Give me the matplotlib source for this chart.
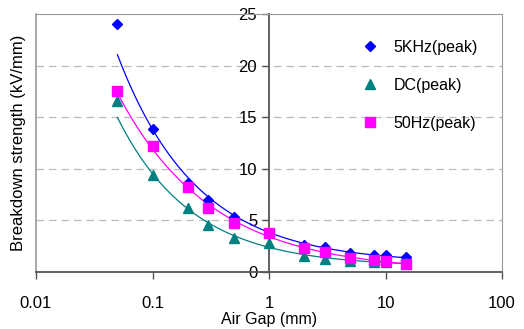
import numpy as np
import matplotlib.pyplot as plt

plt.rcParams['font.family'] = ['Liberation Sans', 'DejaVu Sans']

gap_mm = [0.05, 0.1, 0.2, 0.3, 0.5, 1, 2, 3, 5, 8, 10, 15]
khz5 = [24.0, 13.9, 8.6, 7.0, 5.35, 3.8, 2.6, 2.45, 1.8, 1.65, 1.6, 1.42]
dc = [16.6, 9.4, 6.2, 4.55, 3.26, 2.8, 1.55, 1.25, 1.1, 0.95, 0.95, 0.85]
hz50 = [17.5, 12.2, 8.27, 6.2, 4.7, 3.75, 2.3, 1.9, 1.35, 1.16, 1.07, 0.75]

series = [
    ('5KHz(peak)', khz5, '#0000FF', 'D', 5),
    ('DC(peak)', dc, '#008080', '^', 6.5),
    ('50Hz(peak)', hz50, '#FF00FF', 's', 6.5),
]


def offset_power_fit(x, y):
    # y = a * x**b + c, c picked from a grid, a and b from log-log regression
    best = None
    for c in np.linspace(0, 0.6 * y.min(), 40):
        b, la = np.polyfit(np.log(x), np.log(y - c), 1)
        err = np.sum((np.log(np.exp(la) * x ** b + c) - np.log(y)) ** 2)
        if best is None or err < best[0]:
            best = (err, np.exp(la), b, c)
    return best[1:]


fig = plt.figure(figsize=(5.24, 3.29), dpi=100)
ax = fig.add_axes([36 / 524, 57 / 329, 466 / 524, 258 / 329])

x = np.array(gap_mm)
xs = np.logspace(np.log10(x.min()), np.log10(x.max()), 200)
for name, vals, c, m, ms in series:
    ax.plot(x, vals, linestyle='none', marker=m, color=c, ms=ms, label=name, zorder=3)
    a, b, off = offset_power_fit(x, np.array(vals))
    ax.plot(xs, a * xs ** b + off, color=c, lw=0.9, zorder=2)

ax.set_xscale('log')
ax.set_xlim(0.01, 100)
ax.set_ylim(0, 25)
ax.set_xticks([0.01, 0.1, 1, 10, 100], ['0.01', '0.1', '1', '10', '100'])
ax.xaxis.set_minor_locator(plt.NullLocator())
ax.set_yticks([0, 5, 10, 15, 20, 25])

for yv in [5, 10, 15, 20]:
    ax.axhline(yv, color='#bbbbbb', lw=0.9, ls=(0, (6, 4)), zorder=1)

ax.spines['left'].set_position(('data', 1))
ax.spines['left'].set_color('#555555')
ax.spines['bottom'].set_color('#555555')
ax.spines['bottom'].set_linewidth(1.3)
ax.spines['left'].set_linewidth(1.3)
ax.spines['top'].set_color('#999999')
ax.spines['right'].set_color('#999999')
ax.axvline(0.01, color='#999999', lw=1.2, clip_on=False)

ax.tick_params(axis='both', direction='out', length=5, width=1, colors='#555555',
               labelcolor='black', labelsize=12)
ax.tick_params(axis='x', pad=12)

ax.set_xlabel('Air Gap (mm)', fontsize=11.5, labelpad=1)
fig.text(19 / 524, 1 - 143 / 329, 'Breakdown strength (kV/mm)', rotation=90,
         ha='center', va='center', fontsize=12)

ax.legend(loc='upper left', bbox_to_anchor=(0.685, 0.925), frameon=False, fontsize=11.5,
          handlelength=1, handletextpad=1.0, labelspacing=1.45, borderaxespad=0)

fig.savefig('out.png', dpi=100)
